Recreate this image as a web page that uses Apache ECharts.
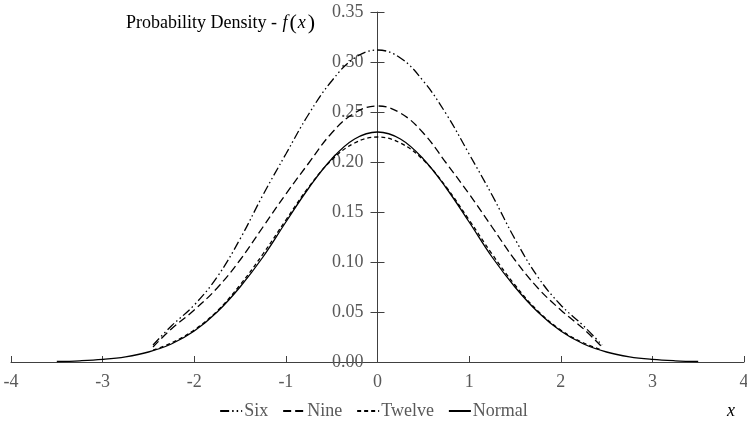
<!DOCTYPE html>
<html>
<head>
<meta charset="utf-8">
<script src="https://cdn.jsdelivr.net/npm/echarts@6/dist/echarts.min.js"></script>
<style>html,body{margin:0;padding:0;background:#fff}#c{width:747px;height:427px}</style>
</head>
<body>
<div id="c"></div>
<script>
// x positions
var xNormal = [-3.5,-3.25,-3,-2.75,-2.5,-2.25,-2,-1.75,-1.5,-1.25,-1,-0.75,-0.5,-0.25,0,0.25,0.5,0.75,1,1.25,1.5,1.75,2,2.25,2.5,2.75,3,3.25,3.5];
var normal  = [0.0005,0.0012,0.0026,0.0052,0.010,0.018,0.031,0.050,0.075,0.105,0.140,0.174,0.203,0.223,0.230,0.223,0.203,0.174,0.140,0.105,0.075,0.050,0.031,0.018,0.010,0.0052,0.0026,0.0012,0.0005];
var xApprox = [-2.45,-2.25,-2,-1.75,-1.5,-1.25,-1,-0.75,-0.5,-0.25,0,0.25,0.5,0.75,1,1.25,1.5,1.75,2,2.25,2.45];
var six     = [0.017,0.036,0.057,0.085,0.123,0.167,0.208,0.248,0.281,0.304,0.312,0.304,0.281,0.248,0.208,0.167,0.123,0.085,0.057,0.036,0.017];
var nine    = [0.015,0.033,0.052,0.074,0.102,0.135,0.168,0.199,0.229,0.249,0.256,0.249,0.229,0.199,0.168,0.135,0.102,0.074,0.052,0.033,0.015];
var twelve  = [0.012,0.019,0.032,0.051,0.077,0.108,0.142,0.175,0.202,0.219,0.225,0.219,0.202,0.175,0.142,0.108,0.077,0.051,0.032,0.019,0.012];
var seriesNames = ['Six','Nine','Twelve','Normal'];
var xTicks = [-4,-3,-2,-1,0,1,2,3,4];

function pairs(xs, ys){ return xs.map(function(x,i){ return [x, ys[i]]; }); }

var font = '"Liberation Serif","Times New Roman",serif';
var gridLeft = 11, gridRight = 3, gridTop = 12, gridBottom = 65;
var W = 747;
var zeroX = gridLeft + (W - gridLeft - gridRight) / 2;

var chart = echarts.init(document.getElementById('c'), null, {renderer:'canvas'});
function lineSeries(name, data, dash){
  return {
    name: name, type: 'line', data: data, smooth: 0.4, symbol: 'none',
    xAxisIndex: 0, yAxisIndex: 0,
    lineStyle: {color: '#000', width: 1.3, type: dash},
    itemStyle: {color: '#000'},
    emphasis: {disabled: true}, silent: true, z: 3
  };
}
chart.setOption({
  animation: false,
  backgroundColor: '#fff',
  grid: [
    {left: gridLeft, right: gridRight, top: gridTop, bottom: gridBottom, containLabel: false, outerBoundsMode: 'none'},
    {left: zeroX, right: gridRight, top: gridTop, bottom: gridBottom, containLabel: false, outerBoundsMode: 'none'}
  ],
  xAxis: [
    {type: 'value', gridIndex: 0, min: -4, max: 4, interval: 1,
     axisLine: {show: true, onZero: false, lineStyle: {color: '#404040', width: 1}},
     axisTick: {show: true, inside: true, length: 6, lineStyle: {color: '#404040'}},
     axisLabel: {color: '#595959', fontFamily: font, fontSize: 18, margin: 11,
       formatter: function(v){ return xTicks.indexOf(v) >= 0 ? String(v) : ''; }},
     splitLine: {show: false}},
    {type: 'value', gridIndex: 1, min: 0, max: 4, show: false}
  ],
  yAxis: [
    {type: 'value', gridIndex: 0, min: 0, max: 0.35, interval: 0.05, show: false},
    {type: 'value', gridIndex: 1, min: 0, max: 0.35, interval: 0.05, position: 'left',
     axisLine: {show: true, onZero: false, lineStyle: {color: '#404040', width: 1}},
     axisTick: {show: true, inside: false, length: 7, lineStyle: {color: '#404040'}},
     axisLabel: {color: '#595959', fontFamily: font, fontSize: 18, margin: 14,
       formatter: function(v){ return v.toFixed(2); }},
     splitLine: {show: false}},
    {type: 'value', gridIndex: 1, min: 0, max: 0.35, interval: 0.05, position: 'left', offset: 0,
     axisLine: {show: false},
     axisTick: {show: true, inside: true, length: 7, lineStyle: {color: '#404040'}},
     axisLabel: {show: false}, splitLine: {show: false}}
  ],
  legend: {
    data: seriesNames, top: 397, left: 'center',
    itemWidth: 22, itemHeight: 10, itemGap: 14,
    itemStyle: {opacity: 0},
    textStyle: {color: '#595959', fontFamily: font, fontSize: 18, padding: [0,0,0,-3]},
    selectedMode: false
  },
  graphic: [
    {type: 'text', left: 126, top: 12, silent: true,
     style: {
       text: 'Probability Density - {i|f}{p|(}{i|x}{p|)}',
       rich: {
         i: {fontFamily: font, fontStyle: 'italic', fontSize: 18, fill: '#000', padding: [0,2,0,1]},
         p: {fontFamily: font, fontSize: 22, fill: '#000'}
       },
       font: '18px ' + font, fill: '#000'
     }},
    {type: 'text', left: 727, top: 402, silent: true,
     style: {text: 'x', font: 'italic 18px ' + font, fill: '#000'}}
  ],
  series: [
    lineSeries('Six', pairs(xApprox, six), [9,3,1.5,3,1.5,3]),
    lineSeries('Nine', pairs(xApprox, nine), [8,4]),
    lineSeries('Twelve', pairs(xApprox, twelve), [4,3]),
    lineSeries('Normal', pairs(xNormal, normal), 'solid')
  ]
});
</script>
</body>
</html>
